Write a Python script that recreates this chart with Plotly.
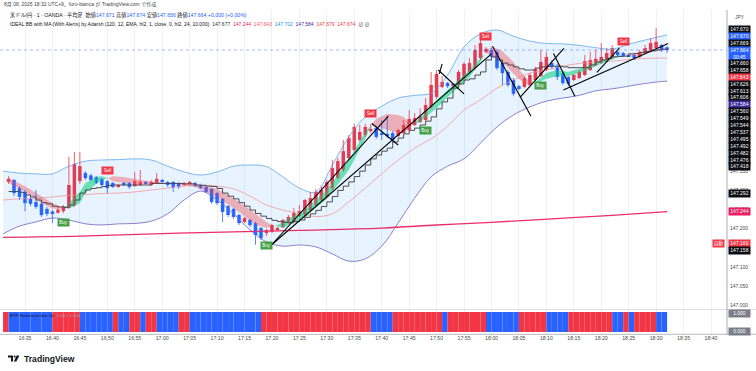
import pandas as pd
import plotly.graph_objects as go

# ============================ DATA ============================
times = pd.date_range("2025-08-08 16:32", "2025-08-08 18:32", freq="1min")

opens = [147.321, 147.326, 147.305, 147.295, 147.277, 147.269, 147.264, 147.251, 147.244, 147.241,
         147.245, 147.253, 147.261, 147.323, 147.344, 147.338, 147.334, 147.329, 147.323, 147.318,
         147.308, 147.318, 147.318, 147.310, 147.313, 147.321, 147.313, 147.318, 147.326, 147.321,
         147.321, 147.318, 147.313, 147.316, 147.318, 147.313, 147.308, 147.303, 147.292, 147.277,
         147.258, 147.251, 147.235, 147.217, 147.222, 147.214, 147.201, 147.188, 147.191, 147.196,
         147.204, 147.214, 147.219, 147.232, 147.235, 147.248, 147.261, 147.274, 147.282, 147.305,
         147.331, 147.352, 147.383, 147.404, 147.430, 147.443, 147.453, 147.461, 147.448, 147.446,
         147.448, 147.440, 147.448, 147.456, 147.469, 147.477, 147.482, 147.516, 147.542, 147.568,
         147.578, 147.570, 147.573, 147.591, 147.607, 147.617, 147.643, 147.659, 147.664, 147.659,
         147.630, 147.607, 147.586, 147.570, 147.568, 147.573, 147.586, 147.596, 147.612, 147.630,
         147.622, 147.604, 147.594, 147.586, 147.591, 147.599, 147.612, 147.625, 147.630, 147.638,
         147.646, 147.659, 147.656, 147.651, 147.651, 147.646, 147.656, 147.664, 147.669, 147.677,
         147.671]
highs = [147.336, 147.329, 147.310, 147.300, 147.282, 147.300, 147.269, 147.256, 147.248, 147.256,
         147.261, 147.386, 147.399, 147.399, 147.349, 147.342, 147.336, 147.331, 147.326, 147.321,
         147.316, 147.321, 147.321, 147.347, 147.352, 147.323, 147.326, 147.344, 147.329, 147.323,
         147.323, 147.321, 147.321, 147.323, 147.321, 147.316, 147.310, 147.305, 147.295, 147.279,
         147.261, 147.253, 147.238, 147.230, 147.225, 147.217, 147.204, 147.199, 147.212, 147.204,
         147.225, 147.235, 147.253, 147.261, 147.277, 147.295, 147.303, 147.310, 147.326, 147.378,
         147.383, 147.430, 147.443, 147.472, 147.469, 147.472, 147.472, 147.466, 147.482, 147.492,
         147.453, 147.459, 147.482, 147.508, 147.500, 147.513, 147.539, 147.607, 147.612, 147.596,
         147.581, 147.578, 147.612, 147.633, 147.643, 147.677, 147.700, 147.672, 147.669, 147.664,
         147.633, 147.612, 147.591, 147.573, 147.596, 147.604, 147.620, 147.664, 147.659, 147.638,
         147.628, 147.607, 147.596, 147.602, 147.612, 147.651, 147.659, 147.664, 147.682, 147.669,
         147.677, 147.661, 147.659, 147.654, 147.656, 147.664, 147.677, 147.695, 147.721, 147.680,
         147.674]
lows = [147.316, 147.284, 147.274, 147.245, 147.258, 147.251, 147.230, 147.232, 147.214, 147.238,
        147.240, 147.251, 147.256, 147.316, 147.326, 147.323, 147.316, 147.308, 147.292, 147.305,
        147.305, 147.310, 147.303, 147.308, 147.310, 147.313, 147.310, 147.316, 147.318, 147.308,
        147.295, 147.303, 147.310, 147.313, 147.308, 147.303, 147.292, 147.264, 147.261, 147.217,
        147.230, 147.225, 147.209, 147.214, 147.204, 147.158, 147.170, 147.180, 147.188, 147.193,
        147.201, 147.212, 147.217, 147.230, 147.232, 147.245, 147.258, 147.271, 147.279, 147.300,
        147.329, 147.347, 147.378, 147.399, 147.425, 147.438, 147.448, 147.433, 147.430, 147.435,
        147.422, 147.438, 147.446, 147.453, 147.466, 147.474, 147.479, 147.511, 147.537, 147.565,
        147.565, 147.568, 147.570, 147.586, 147.602, 147.612, 147.638, 147.656, 147.643, 147.612,
        147.573, 147.568, 147.544, 147.560, 147.565, 147.570, 147.583, 147.594, 147.609, 147.615,
        147.586, 147.573, 147.570, 147.583, 147.589, 147.596, 147.609, 147.622, 147.628, 147.635,
        147.643, 147.648, 147.646, 147.646, 147.638, 147.643, 147.654, 147.661, 147.667, 147.659,
        147.656]
closes = [147.329, 147.292, 147.282, 147.266, 147.264, 147.256, 147.235, 147.238, 147.239, 147.249,
          147.257, 147.313, 147.368, 147.362, 147.331, 147.326, 147.318, 147.313, 147.305, 147.308,
          147.313, 147.313, 147.308, 147.323, 147.321, 147.316, 147.321, 147.329, 147.321, 147.313,
          147.308, 147.308, 147.318, 147.321, 147.310, 147.305, 147.295, 147.269, 147.266, 147.243,
          147.235, 147.230, 147.214, 147.227, 147.209, 147.183, 147.175, 147.196, 147.209, 147.201,
          147.222, 147.230, 147.240, 147.245, 147.274, 147.279, 147.295, 147.300, 147.321, 147.357,
          147.375, 147.401, 147.435, 147.464, 147.451, 147.464, 147.459, 147.438, 147.443, 147.440,
          147.430, 147.456, 147.469, 147.485, 147.487, 147.492, 147.521, 147.573, 147.602, 147.581,
          147.570, 147.576, 147.607, 147.628, 147.630, 147.664, 147.682, 147.667, 147.646, 147.617,
          147.604, 147.573, 147.550, 147.565, 147.591, 147.599, 147.615, 147.633, 147.646, 147.620,
          147.594, 147.578, 147.576, 147.599, 147.607, 147.635, 147.638, 147.641, 147.646, 147.656,
          147.669, 147.651, 147.648, 147.648, 147.643, 147.659, 147.669, 147.682, 147.685, 147.664,
          147.664]

# stepped trailing line (one value per candle)
step_line = [147.296, 147.296, 147.294, 147.287, 147.282, 147.274, 147.267, 147.264, 147.258, 147.256,
             147.255, 147.261, 147.274, 147.292, 147.300, 147.304, 147.306, 147.309, 147.312, 147.313,
             147.313, 147.313, 147.313, 147.313, 147.313, 147.313, 147.317, 147.317, 147.317, 147.317,
             147.317, 147.317, 147.316, 147.316, 147.313, 147.312, 147.310, 147.309, 147.304, 147.292,
             147.284, 147.277, 147.267, 147.258, 147.248, 147.239, 147.232, 147.226, 147.221, 147.218,
             147.216, 147.215, 147.218, 147.222, 147.229, 147.238, 147.247, 147.257, 147.269, 147.283,
             147.299, 147.310, 147.321, 147.335, 147.349, 147.365, 147.381, 147.391, 147.401, 147.409,
             147.425, 147.435, 147.446, 147.455, 147.461, 147.469, 147.479, 147.490, 147.511, 147.529,
             147.539, 147.565, 147.576, 147.586, 147.589, 147.599, 147.607, 147.638, 147.646, 147.638,
             147.630, 147.625, 147.620, 147.615, 147.612, 147.612, 147.617, 147.620, 147.621, 147.622,
             147.622, 147.620, 147.618, 147.618, 147.618, 147.618, 147.625, 147.633, 147.638, 147.642,
             147.646, 147.647, 147.648, 147.654, 147.655, 147.658, 147.660, 147.662, 147.664, 147.666,
             147.666]

# Bollinger band read at sample minutes (minutes after 16:00)
bb_minutes = [31, 34, 37, 40, 43, 46, 49, 52, 55, 58, 61, 64, 67, 70, 73, 76, 79, 82, 85, 88, 91,
              94, 97, 100, 103, 106, 109, 112, 115, 118, 121, 124, 127, 130, 133, 136, 139, 142, 145,
              148, 151, 152]
bb_upper = [147.349, 147.344, 147.342, 147.342, 147.362, 147.375, 147.378, 147.379, 147.381, 147.378,
            147.362, 147.347, 147.339, 147.347, 147.362, 147.365, 147.361, 147.334, 147.305, 147.295,
            147.365, 147.438, 147.490, 147.518, 147.539, 147.546, 147.552, 147.599, 147.672, 147.706,
            147.716, 147.700, 147.687, 147.681, 147.680, 147.676, 147.670, 147.666, 147.679, 147.690,
            147.700, 147.703]
bb_middle = [147.274, 147.277, 147.278, 147.282, 147.286, 147.288, 147.291, 147.292, 147.295, 147.300,
             147.305, 147.310, 147.313, 147.310, 147.303, 147.284, 147.261, 147.248, 147.239, 147.231,
             147.238, 147.269, 147.305, 147.342, 147.378, 147.409, 147.433, 147.466, 147.508, 147.534,
             147.565, 147.586, 147.604, 147.612, 147.622, 147.629, 147.633, 147.635, 147.639, 147.642,
             147.643, 147.643]
bb_lower = [147.186, 147.206, 147.217, 147.227, 147.222, 147.212, 147.209, 147.212, 147.213, 147.219,
            147.238, 147.274, 147.297, 147.274, 147.238, 147.196, 147.165, 147.154, 147.157, 147.152,
            147.134, 147.115, 147.121, 147.154, 147.214, 147.279, 147.334, 147.362, 147.381, 147.422,
            147.464, 147.495, 147.516, 147.531, 147.539, 147.546, 147.558, 147.563, 147.570, 147.577,
            147.582, 147.583]

# long moving average (pink)
ma_minutes = [31, 45, 63, 85, 100, 110, 120, 131, 142, 152]
ma_values = [147.177, 147.180, 147.188, 147.195, 147.201, 147.209, 147.216, 147.225, 147.234, 147.244]

# fast / slow averages forming the cloud
cloud_minutes = [32, 35, 38, 40, 42, 43, 44, 45, 46, 48, 49, 50, 51, 53, 56, 60, 63, 66, 70, 74, 77,
                 79, 80, 81, 82, 86, 90, 94, 97, 98, 99, 101, 103, 104, 105, 106, 107, 110, 113, 116,
                 118, 119, 120, 122, 124, 126, 127, 128, 130, 132, 134, 137, 140, 143, 144, 146, 148,
                 150, 152]
cloud_fast = [147.318, 147.295, 147.266, 147.251, 147.251, 147.264, 147.282, 147.295, 147.318, 147.334,
              147.336, 147.331, 147.323, 147.318, 147.316, 147.316, 147.314, 147.308, 147.282, 147.243,
              147.209, 147.201, 147.206, 147.209, 147.217, 147.248, 147.300, 147.378, 147.451, 147.469,
              147.466, 147.456, 147.448, 147.448, 147.461, 147.474, 147.487, 147.534, 147.573, 147.612,
              147.643, 147.656, 147.648, 147.633, 147.602, 147.576, 147.573, 147.581, 147.604, 147.612,
              147.607, 147.620, 147.638, 147.651, 147.652, 147.648, 147.654, 147.661, 147.664]
cloud_slow = [147.331, 147.310, 147.284, 147.266, 147.252, 147.253, 147.258, 147.266, 147.292, 147.316,
              147.326, 147.330, 147.336, 147.334, 147.326, 147.319, 147.317, 147.314, 147.303, 147.269,
              147.238, 147.217, 147.209, 147.205, 147.201, 147.230, 147.277, 147.352, 147.433, 147.468,
              147.485, 147.498, 147.495, 147.490, 147.477, 147.472, 147.477, 147.513, 147.555, 147.594,
              147.633, 147.658, 147.674, 147.661, 147.633, 147.596, 147.578, 147.576, 147.589, 147.596,
              147.596, 147.609, 147.628, 147.646, 147.654, 147.652, 147.659, 147.667, 147.667]

# Buy / Sell signals
signal_minutes = [42, 50, 79, 98, 108, 119, 129, 144]
signal_kinds = ["Buy", "Sell", "Buy", "Sell", "Buy", "Sell", "Buy", "Sell"]

# user-drawn trend lines (minutes after 16:00, price)
trend_t0 = [79.9, 79.9, 98.2, 110.3, 111.0, 120.2, 125.2, 131.3, 133.1, 139.2]
trend_p0 = [147.157, 147.157, 147.473, 147.612, 147.628, 147.674, 147.541, 147.655, 147.560, 147.606]
trend_t1 = [101.2, 120.0, 103.0, 115.0, 110.5, 127.2, 133.2, 135.2, 152.2, 143.3]
trend_p1 = [147.492, 147.654, 147.417, 147.550, 147.602, 147.492, 147.668, 147.544, 147.681, 147.669]

# Heikin-Ashi state bar (R = red, B = blue), runs starting 16:31
ha_first_minute = 31
ha_runs = [("R", 1), ("B", 8), ("R", 5), ("B", 6), ("R", 1), ("B", 2), ("R", 2), ("B", 1), ("R", 2),
           ("B", 4), ("R", 2), ("B", 13), ("R", 20), ("B", 4), ("R", 9), ("B", 1), ("R", 7), ("B", 6),
           ("R", 5), ("B", 4), ("R", 8), ("B", 2), ("R", 1), ("B", 1), ("R", 4), ("B", 2)]

# right price-scale labels
scale_values = [147.670, 147.670, 147.669, 147.664, 147.660, 147.658, 147.643, 147.626, 147.613,
                147.606, 147.584, 147.560, 147.549, 147.544, 147.537, 147.495, 147.492, 147.482,
                147.476, 147.418, 147.292, 147.244, 147.160, 147.158]
scale_colors = ["#0b0d12", "#2962ff", "#0b0d12", "#2962ff", "#0b0d12", "#0b0d12", "#f23645",
                "#0b0d12", "#0b0d12", "#0b0d12", "#3d2a9c", "#0b0d12", "#0b0d12", "#0b0d12",
                "#0b0d12", "#0b0d12", "#0b0d12", "#0b0d12", "#0b0d12", "#0b0d12", "#0b0d12",
                "#e91e63", "#f23645", "#0b0d12"]
current_price = 147.664
countdown = "00:45"

time_ticks = ["16:35", "16:40", "16:45", "16:50", "16:55", "17:00", "17:05", "17:10", "17:15",
              "17:20", "17:25", "17:30", "17:35", "17:40", "17:45", "17:50", "17:55", "18:00",
              "18:05", "18:10", "18:15", "18:20", "18:25", "18:30", "18:35", "18:40"]
price_ticks = [147.0, 147.05, 147.1, 147.15, 147.2, 147.25, 147.3, 147.35, 147.4, 147.45, 147.5,
               147.55, 147.6, 147.65, 147.7]

# ============================ LAYOUT CONSTANTS ============================
W, H = 756, 371
PLOT_L, PLOT_R, PLOT_T, PLOT_B = 0, 727, 10, 334
MAIN_BOT_PX = 309
Y_MIN, Y_MAX = 146.9906, 147.768
BASE = pd.Timestamp("2025-08-08 16:00")
RED, BLUE = "#f23645", "#2962ff"
FONT = "Liberation Sans, Arial, Noto Sans CJK JP, sans-serif"

assert len(opens) == len(highs) == len(lows) == len(closes) == len(step_line) == len(times)
assert len(cloud_minutes) == len(cloud_fast) == len(cloud_slow)


def T(m):
    return BASE + pd.to_timedelta(m, unit="min")


def xp(px):
    return (px - PLOT_L) / (PLOT_R - PLOT_L)


def yp(py):
    return (PLOT_B - py) / (PLOT_B - PLOT_T)


def price_px(p):
    return PLOT_T + (Y_MAX - p) * (MAIN_BOT_PX - PLOT_T) / (Y_MAX - Y_MIN)


fig = go.Figure()

# ---- Bollinger band ----
bb_t = [T(m) for m in bb_minutes]
fig.add_trace(go.Scatter(x=bb_t, y=bb_upper, mode="lines", line=dict(color="#6fb0f0", width=0.9, shape="spline"),
                         hoverinfo="skip"))
fig.add_trace(go.Scatter(x=bb_t, y=bb_lower, mode="lines", line=dict(color="#7d74c9", width=0.9, shape="spline"),
                         fill="tonexty", fillcolor="rgba(33,150,243,0.11)", hoverinfo="skip"))
fig.add_trace(go.Scatter(x=bb_t, y=bb_middle, mode="lines", line=dict(color="#f3a0a6", width=0.9, shape="spline"),
                         hoverinfo="skip"))

# ---- long MA ----
fig.add_trace(go.Scatter(x=[T(m) for m in ma_minutes], y=ma_values, mode="lines",
                         line=dict(color="#ec2d6a", width=1.3, shape="spline"), hoverinfo="skip"))


# ---- cloud ----
def cloud_segments(ts, a, b):
    segs = []
    cur = None
    sx, sa, sb = [], [], []
    for i in range(len(ts)):
        d = a[i] - b[i]
        s = 1 if d >= 0 else -1
        if cur is None:
            cur = s
        elif s != cur:
            d0 = a[i - 1] - b[i - 1]
            f = d0 / (d0 - d)
            tx = ts[i - 1] + f * (ts[i] - ts[i - 1])
            yx = a[i - 1] + f * (a[i] - a[i - 1])
            sx.append(tx); sa.append(yx); sb.append(yx)
            segs.append((cur, sx, sa, sb))
            sx, sa, sb = [tx], [yx], [yx]
            cur = s
        sx.append(ts[i]); sa.append(a[i]); sb.append(b[i])
    segs.append((cur, sx, sa, sb))
    return segs


for sign, sx, sa, sb in cloud_segments(cloud_minutes, cloud_fast, cloud_slow):
    col = "rgba(30,210,135,0.62)" if sign > 0 else "rgba(240,80,90,0.42)"
    fig.add_trace(go.Scatter(x=[T(m) for m in sx + sx[::-1]], y=sa + sb[::-1], mode="lines",
                             fill="toself", fillcolor=col, line=dict(width=0), hoverinfo="skip"))

# ---- stepped line ----
fig.add_trace(go.Scatter(x=times, y=step_line, mode="lines", line=dict(color="#3c3c3c", width=0.9, shape="hv"),
                         hoverinfo="skip"))

# ---- candles ----
up = [i for i in range(len(times)) if closes[i] >= opens[i]]
dn = [i for i in range(len(times)) if closes[i] < opens[i]]
for idx, col in ((up, RED), (dn, BLUE)):
    wx, wy = [], []
    for i in idx:
        wx += [times[i], times[i], None]
        wy += [lows[i], highs[i], None]
    fig.add_trace(go.Scatter(x=wx, y=wy, mode="lines", line=dict(color=col, width=0.8), hoverinfo="skip"))
    fig.add_trace(go.Bar(x=[times[i] for i in idx],
                         y=[max(abs(closes[i] - opens[i]), 0.0012) for i in idx],
                         base=[min(opens[i], closes[i]) for i in idx],
                         width=0.64 * 60000, marker=dict(color=col, line=dict(width=0)), hoverinfo="skip"))

# ---- trend lines ----
lx, ly = [], []
for t0, p0, t1, p1 in zip(trend_t0, trend_p0, trend_t1, trend_p1):
    lx += [T(t0), T(t1), None]
    ly += [p0, p1, None]
fig.add_trace(go.Scatter(x=lx, y=ly, mode="lines", line=dict(color="#000000", width=1.1), hoverinfo="skip"))

# ---- Heikin-Ashi pane ----
ha_x, ha_c = [], []
m = ha_first_minute
for code, n in ha_runs:
    for _ in range(n):
        ha_x.append(T(m + 0.5))
        ha_c.append(RED if code == "R" else BLUE)
        m += 1
fig.add_trace(go.Bar(x=ha_x, y=[1] * len(ha_x), base=[0] * len(ha_x), width=60000, yaxis="y2",
                     marker=dict(color=ha_c, line=dict(width=0)), hoverinfo="skip"))

# ============================ ANNOTATIONS ============================
ann = []
# Buy / Sell labels
for sm, kind in zip(signal_minutes, signal_kinds):
    i = sm - 32
    if kind == "Sell":
        ann.append(dict(x=times[i], y=highs[i], xref="x", yref="y", yshift=10, text="Sell", showarrow=False,
                        bgcolor="#f23645", font=dict(size=4.6, color="white", family=FONT),
                        width=11, height=7, borderpad=0))
    else:
        ann.append(dict(x=times[i], y=lows[i], xref="x", yref="y", yshift=-9, text="Buy", showarrow=False,
                        bgcolor="#43a047", font=dict(size=4.6, color="white", family=FONT),
                        width=11, height=7, borderpad=0))

# price-scale labels, spread to avoid overlap around the current-price label
cur_idx = scale_values.index(current_price)
heights = [13.4 if i == cur_idx else 6.9 for i in range(len(scale_values))]
desired = [price_px(v) + (3.25 if i == cur_idx else 0) for i, v in enumerate(scale_values)]
pos = list(desired)
for i in range(cur_idx + 1, len(pos)):
    pos[i] = max(desired[i], pos[i - 1] + (heights[i - 1] + heights[i]) / 2)
for i in range(cur_idx - 1, -1, -1):
    pos[i] = min(desired[i], pos[i + 1] - (heights[i] + heights[i + 1]) / 2)
for i, v in enumerate(scale_values):
    txt = f"{v:.3f}" + (f"<br>{countdown}" if i == cur_idx else "")
    ann.append(dict(x=xp(727.8), y=yp(pos[i]), xref="paper", yref="paper", xanchor="left", yanchor="middle",
                    text=txt, showarrow=False, bgcolor=scale_colors[i], borderpad=0,
                    width=21, height=heights[i] - 0.4, font=dict(size=5, color="white", family=FONT)))
    if abs(v - 147.160) < 1e-9:
        ann.append(dict(x=xp(724.5), y=yp(pos[i]), xref="paper", yref="paper", xanchor="right",
                        yanchor="middle", text="自動", showarrow=False, bgcolor="#f23645", borderpad=0,
                        width=11, height=6.5, font=dict(size=4.6, color="white", family=FONT)))

# Heikin pane scale labels
for val, ypx in (("1.000", 313), ("0.000", 331)):
    ann.append(dict(x=xp(727.8), y=yp(ypx), xref="paper", yref="paper", xanchor="left", yanchor="middle",
                    text=val, showarrow=False, bgcolor="#7b7e88", borderpad=0, width=21, height=6.5,
                    font=dict(size=5, color="white", family=FONT)))

ann.append(dict(x=xp(733), y=yp(17), xref="paper", yref="paper", xanchor="left", yanchor="middle",
                text="JPY", showarrow=False, font=dict(size=5, color="#555", family=FONT)))

# header lines
hdr1 = "8月 08, 2025 18:32 UTC+9\u3001furu-bianca が TradingView.com で作成"
nb = "\u00a0"
bl = '<span style="color:#2962ff">'
hdr2 = ("米ドル/円 · 1 · OANDA · 平均足" + nb * 2 + "始値" + bl + "147.671</span>" + nb + "高値" + bl +
        "147.674</span>" + nb + "安値" + bl + "147.656</span>" + nb + "終値" + bl + "147.664</span>" + nb +
        bl + "+0.000 (+0.00%)</span>")


def cs(c, t):
    return f'<span style="color:{c}">{t}</span>' + nb * 2


hdr3 = ("IDEAL BB with MA (With Alerts) by Adarsh (120, 12, EMA, hl2, 1, close, 0, hl2, 24, 10.000)" + nb * 2 +
        cs("#2a2e39", "147.677") + cs("#e91e63", "147.244") + cs("#f7525f", "147.643") +
        cs("#2196f3", "147.702") + cs("#4527a0", "147.584") + cs("#f23645", "147.679") +
        cs("#f23645", "147.674") + "⊘" + nb + "⊘")
for txt, xpx, ypx, size, col in ((hdr1, 2, 5, 5, "#444"), (hdr2, 8, 14.7, 5.2, "#131722"),
                                 (hdr3, 8, 24, 5, "#131722")):
    ann.append(dict(x=xp(xpx), y=yp(ypx), xref="paper", yref="paper", xanchor="left", yanchor="middle",
                    text=txt, showarrow=False, font=dict(size=size, color=col, family=FONT)))

# indicator pane title
ann.append(dict(x=xp(8), y=yp(315.5), xref="paper", yref="paper", xanchor="left", yanchor="middle",
                text='BTF Heikinashi bar 15' + nb * 2 + '<span style="color:#9aa0b0">1.000' + nb * 2 + '1.000</span>',
                showarrow=False, font=dict(size=4.4, color="#131722", family=FONT)))

# TradingView brand text
ann.append(dict(x=xp(22), y=yp(358.5), xref="paper", yref="paper", xanchor="left", yanchor="middle",
                text="<b>TradingView</b>", showarrow=False, font=dict(size=8.6, color="#131722", family=FONT)))

# ============================ SHAPES ============================
shapes = [
    dict(type="line", xref="paper", yref="y", x0=0, x1=1, y0=current_price, y1=current_price,
         line=dict(color="rgba(41,98,255,0.55)", width=0.8, dash="dot")),
    dict(type="line", xref="paper", yref="paper", x0=0, x1=xp(W), y0=yp(309.6), y1=yp(309.6),
         line=dict(color="#d9dce3", width=1)),
    dict(type="line", xref="paper", yref="paper", x0=0, x1=xp(W), y0=yp(334.3), y1=yp(334.3),
         line=dict(color="#c5c8cf", width=1.2)),
    dict(type="line", xref="paper", yref="paper", x0=1, x1=1, y0=yp(PLOT_T), y1=yp(335),
         line=dict(color="#a9acb4", width=1)),
    # logo glyph
    dict(type="path", xref="paper", yref="paper", fillcolor="#131722", line=dict(width=0),
         path=f"M {xp(8)},{yp(355.5)} L {xp(13)},{yp(355.5)} L {xp(13)},{yp(361.5)} L {xp(11)},{yp(361.5)} "
              f"L {xp(11)},{yp(357.6)} L {xp(8)},{yp(357.6)} Z"),
    dict(type="circle", xref="paper", yref="paper", fillcolor="#131722", line=dict(width=0),
         x0=xp(13.6), x1=xp(15.6), y0=yp(355.4), y1=yp(357.4)),
    dict(type="path", xref="paper", yref="paper", fillcolor="#131722", line=dict(width=0),
         path=f"M {xp(16.6)},{yp(355.5)} L {xp(19.4)},{yp(355.5)} L {xp(16.4)},{yp(361.5)} "
              f"L {xp(13.8)},{yp(361.5)} Z"),
]

# ============================ LAYOUT ============================
main_lo = (PLOT_B - MAIN_BOT_PX) / (PLOT_B - PLOT_T)
fig.update_layout(
    width=W, height=H, autosize=False,
    margin=dict(l=PLOT_L, r=W - PLOT_R, t=PLOT_T, b=H - PLOT_B, pad=0),
    paper_bgcolor="white", plot_bgcolor="white",
    showlegend=False, barmode="overlay", hovermode=False,
    font=dict(family=FONT, size=5, color="#4a4a4a"),
    xaxis=dict(type="date", anchor="y2",
               range=[T(35 - 25 / 5.488), T(35 + 702 / 5.488)],
               tickvals=[pd.Timestamp(f"2025-08-08 {t}") for t in time_ticks], ticktext=time_ticks,
               showgrid=True, gridcolor="#eff1f5", gridwidth=1, zeroline=False, showline=False, ticks="",
               tickfont=dict(size=5.2, color="#4a4a4a")),
    yaxis=dict(domain=[main_lo, 1], range=[Y_MIN, Y_MAX], side="right", anchor="x",
               tickvals=price_ticks, ticktext=[f"{v:.3f}" for v in price_ticks],
               showgrid=False, zeroline=False, showline=False, ticks="", ticklabelstandoff=2,
               tickfont=dict(size=5, color="#4a4a4a")),
    yaxis2=dict(domain=[0, (PLOT_B - 310) / (PLOT_B - PLOT_T)], range=[-0.1, 1.1], anchor="x",
                showticklabels=False, showgrid=False, zeroline=False, showline=False),
    annotations=ann, shapes=shapes,
)

fig.write_html("out.html", config={"displayModeBar": False},
               post_script="document.body.style.margin='0';document.body.style.overflow='hidden';")
